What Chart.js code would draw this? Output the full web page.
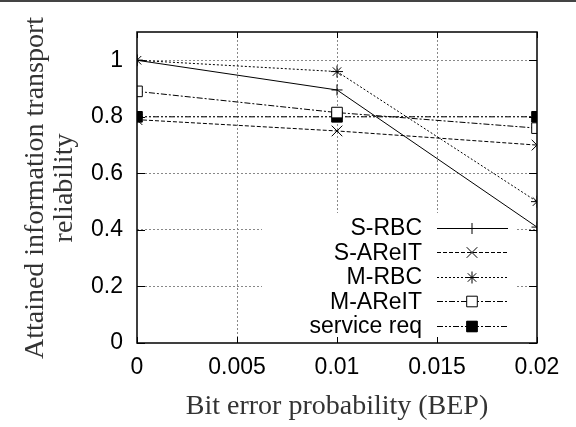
<!DOCTYPE html>
<html lang="en">
<head>
<meta charset="UTF-8">
<title>Attained reliability vs BEP</title>
<script src="https://cdn.jsdelivr.net/npm/chart.js"></script>
<style>
    html, body { margin: 0; padding: 0; background: #fff; }
    .wrap { width: 576px; height: 427px; position: relative; }
</style>
</head>
<body>
<div class="wrap"><canvas id="chart" width="576" height="427"></canvas></div>
<script>
    // values
    const bep = [0, 0.01, 0.02];
    const sRbc = [1.0, 0.895, 0.41];
    const sAreit = [0.79, 0.75, 0.70];
    const mRbc = [1.0, 0.96, 0.50];
    const mAreit = [0.89, 0.815, 0.76];
    const serviceReq = [0.8, 0.8, 0.8];

    const xTickValues = [0, 0.005, 0.01, 0.015, 0.02];
    const xTickLabels = ['0', '0.005', '0.01', '0.015', '0.02'];
    const yTickValues = [0, 0.2, 0.4, 0.6, 0.8, 1];
    const yTickLabels = ['0', '0.2', '0.4', '0.6', '0.8', '1'];

    const seriesNames = ['S-RBC', 'S-AReIT', 'M-RBC', 'M-AReIT', 'service req'];
    const seriesValues = [sRbc, sAreit, mRbc, mAreit, serviceReq];
    const seriesStyle = [
        { dash: [], point: 'cross', r: 5.5, fill: false },
        { dash: [4, 2], point: 'crossRot', r: 7.5, fill: false },
        { dash: [2, 2], point: 'star', r: 6, fill: false },
        { dash: [6, 2, 2, 2], point: 'rect', r: 7.5, fill: false },
        { dash: [6, 2, 2, 2, 2, 2], point: 'rect', r: 7.5, fill: true }
    ];

    const datasets = seriesNames.map((name, i) => ({
        label: name,
        data: bep.map((x, j) => ({ x: x, y: seriesValues[i][j] })),
        borderColor: '#000',
        borderWidth: 1,
        borderDash: seriesStyle[i].dash,
        pointStyle: seriesStyle[i].point,
        pointRadius: seriesStyle[i].r,
        pointBorderColor: '#000',
        pointBorderWidth: 1,
        pointBackgroundColor: seriesStyle[i].fill ? '#000' : '#fff',
        fill: false,
        tension: 0
    }));

    const tickFont = { family: '"Liberation Sans", Arial, sans-serif', size: 23 };

    const framePlugin = {
        id: 'frame',
        beforeDatasetsDraw(chart) {
            const ctx = chart.ctx, a = chart.chartArea;
            const xs = chart.scales.x, ys = chart.scales.y;
            ctx.save();
            ctx.strokeStyle = '#000';
            ctx.lineWidth = 1;
            ctx.setLineDash([]);
            ctx.beginPath();
            yTickValues.forEach(v => {
                const y = Math.round(ys.getPixelForValue(v)) + 0.5;
                ctx.moveTo(a.left, y); ctx.lineTo(a.left + 8, y);
                ctx.moveTo(a.right, y); ctx.lineTo(a.right - 8, y);
            });
            xTickValues.forEach(v => {
                const x = Math.round(xs.getPixelForValue(v)) + 0.5;
                ctx.moveTo(x, a.bottom); ctx.lineTo(x, a.bottom - 6);
                ctx.moveTo(x, a.top); ctx.lineTo(x, a.top + 6);
            });
            ctx.stroke();
            ctx.restore();
        },
        afterDraw(chart) {
            const ctx = chart.ctx, a = chart.chartArea;
            ctx.save();
            // key box
            ctx.fillStyle = '#fff';
            ctx.fillRect(262, 213, 253, 124);
            ctx.font = '23px "Liberation Sans", Arial, sans-serif';
            ctx.textAlign = 'right';
            ctx.textBaseline = 'middle';
            seriesNames.forEach((name, i) => {
                const y = 228 + i * 24.4;
                ctx.fillStyle = '#000';
                ctx.fillText(name, 422, y + 1);
                ctx.strokeStyle = '#000';
                ctx.lineWidth = 1;
                ctx.setLineDash(seriesStyle[i].dash);
                ctx.beginPath();
                ctx.moveTo(437, Math.round(y) + 0.5);
                ctx.lineTo(508, Math.round(y) + 0.5);
                ctx.stroke();
                ctx.setLineDash([]);
                ctx.fillStyle = seriesStyle[i].fill ? '#000' : '#fff';
                Chart.helpers.drawPoint(ctx, {
                    pointStyle: seriesStyle[i].point,
                    radius: seriesStyle[i].r,
                    borderWidth: 1,
                    rotation: 0
                }, 472, Math.round(y) + 0.5);
                ctx.fillStyle = '#000';
                if (seriesStyle[i].fill) ctx.fill();
            });
            // plot frame
            ctx.strokeStyle = '#000';
            ctx.lineWidth = 1.5;
            ctx.strokeRect(a.left, a.top, a.right - a.left, a.bottom - a.top);
            // axis titles
            ctx.fillStyle = '#333';
            ctx.font = '28px "Liberation Serif", "Times New Roman", serif';
            ctx.textAlign = 'center';
            ctx.textBaseline = 'alphabetic';
            ctx.fillText('Bit error probability (BEP)', 337, 414);
            ctx.translate(0, 188);
            ctx.rotate(-Math.PI / 2);
            ctx.fillText('Attained information transport', 0, 43);
            ctx.fillText('reliability', 0, 72);
            ctx.restore();
            // image top rule
            ctx.save();
            ctx.fillStyle = '#444';
            ctx.fillRect(0, 0, 576, 2);
            ctx.restore();
        }
    };

    new Chart(document.getElementById('chart'), {
        type: 'line',
        data: { datasets: datasets },
        options: {
            responsive: false,
            animation: false,
            events: [],
            layout: { padding: { top: 32, right: 39, left: 0, bottom: 0 } },
            plugins: { legend: { display: false }, tooltip: { enabled: false } },
            scales: {
                x: {
                    type: 'linear',
                    min: 0,
                    max: 0.02,
                    afterBuildTicks: s => { s.ticks = xTickValues.map(v => ({ value: v })); },
                    afterFit: s => { s.height = 84; },
                    ticks: {
                        color: '#000',
                        font: tickFont,
                        padding: 11,
                        maxRotation: 0,
                        autoSkip: false,
                        callback: (v, i) => xTickLabels[i]
                    },
                    grid: {
                        drawTicks: false,
                        color: c => (c.index === 0 || c.index === xTickValues.length - 1) ? 'rgba(0,0,0,0)' : '#888',
                        lineWidth: 1
                    },
                    border: { display: false, dash: [2, 2] }
                },
                y: {
                    type: 'linear',
                    min: 0,
                    max: 1.1,
                    afterBuildTicks: s => { s.ticks = yTickValues.map(v => ({ value: v })); },
                    afterFit: s => { s.width = 137; },
                    ticks: {
                        color: '#000',
                        font: tickFont,
                        padding: 14,
                        autoSkip: false,
                        callback: (v, i) => yTickLabels[i]
                    },
                    grid: {
                        drawTicks: false,
                        color: c => c.index === 0 ? 'rgba(0,0,0,0)' : '#888',
                        lineWidth: 1
                    },
                    border: { display: false, dash: [2, 2] }
                }
            }
        },
        plugins: [framePlugin]
    });
</script>
</body>
</html>
